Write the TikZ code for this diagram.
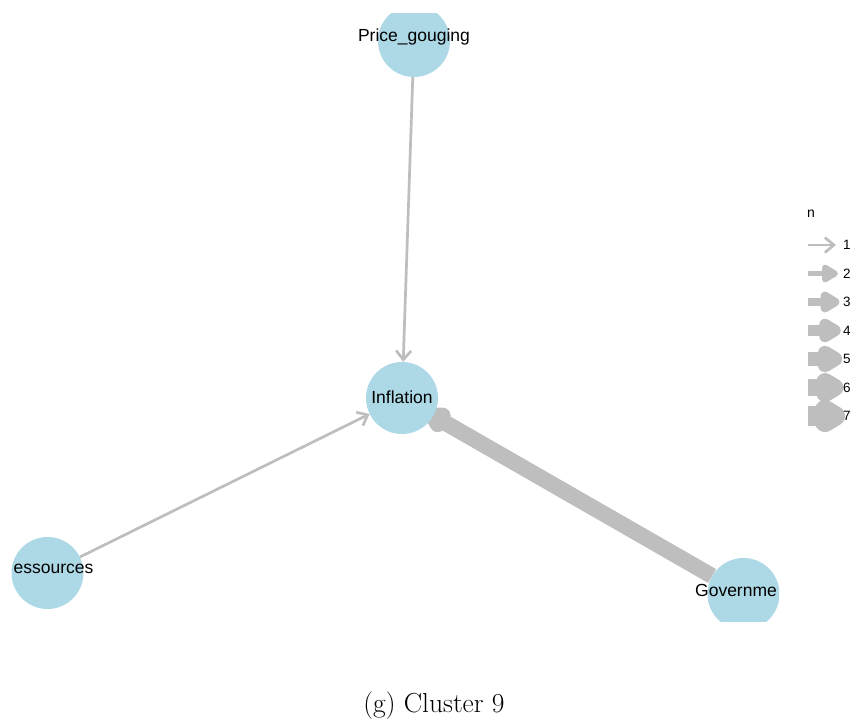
\documentclass[tikz,border=0pt]{standalone}
\usepackage{fontspec}
\newfontfamily\labelfont{Liberation Sans}
\usetikzlibrary{arrows.meta, calc}
\definecolor{nodecol}{HTML}{ADD8E6}
\definecolor{edgecol}{HTML}{BEBEBE}
\pgfdeclarelayer{edges}
\pgfsetlayers{edges,main}
\tikzstyle{vertex} = [circle, fill=nodecol, minimum size=72pt, inner sep=0pt]
\tikzstyle{vlabel} = [font=\labelfont\fontsize{17.5}{20}\selectfont, inner sep=0pt]
\tikzstyle{keylabel} = [font=\labelfont\fontsize{13.5}{15}\selectfont, inner sep=0pt, anchor=west]
\tikzstyle{thinarrow} = [edgecol, line width=2.7pt, -{Straight Barb[length=9pt, width=15pt]}]
\tikzstyle{thickline} = [edgecol, line width=16pt]
\tikzstyle{arrowhead} = [edgecol, fill=edgecol, line join=round]

\begin{document}
\begin{tikzpicture}[x=1pt, y=-1pt]
    \useasboundingbox (0,0) rectangle (855,724);

    \begin{scope}
    \clip (11,13) rectangle (779,621);
    \node (price) [vertex] at (414,41) {};
    \node (inflation) [vertex] at (402,398) {};
    \node (ressources) [vertex] at (47.5,573) {};
    \node (government) [vertex] at (743.5,594) {};

    \node (pricetxt) [vlabel] at (414,37) {Price\_gouging};
    \node (inflationtxt) [vlabel] at (402,397) {Inflation};
    \node (ressourcestxt) [vlabel] at (53.5,569) {essources};
    \node (governmenttxt) [vlabel] at (736,590) {Governme};
    \end{scope}

    \begin{pgfonlayer}{edges}
    \draw [thinarrow] (price) -- (inflation);
    \draw [thinarrow] (ressources) -- (inflation);
    % thick edge, head drawn as a stroked triangle
    \coordinate (govtip) at ($(inflation)!36pt!(government)$);
    \coordinate (govback) at ($(inflation)!44pt!(government)$);
    \draw [thickline] (government) -- (govtip);
    \filldraw [arrowhead, line width=16pt] (govtip)
        -- ($(govback)!5pt!90:(govtip)$) -- ($(govback)!5pt!-90:(govtip)$) -- cycle;
    \end{pgfonlayer}

    % legend
    \node (legendtitle) [font=\labelfont\fontsize{14}{16}\selectfont] at (811,214) {n};
    \coordinate (key1a) at (808,245);
    \coordinate (key1b) at (836,245);
    \draw [thinarrow] (key1a) -- (key1b);
    \foreach \k in {2,...,7} {
        \pgfmathsetmacro{\ky}{245+(\k-1)*28.5}
        \pgfmathsetmacro{\kw}{3+(\k-1)*2.83}
        \coordinate (key\k a) at (808,\ky);
        \coordinate (key\k b) at (835,\ky);
        \draw [edgecol, line width=\kw pt] (key\k a) -- (key\k b);
        \filldraw [arrowhead, line width=\kw pt] (key\k b)
            -- ($(key\k b)+(-10,-6)$) -- ($(key\k b)+(-10,6)$) -- cycle;
    }
    \foreach \k in {1,...,7}
        \node (key\k) [keylabel] at (843,245+28.5*\k-28.5) {\k};

    \node (caption) [font=\fontsize{27.5}{31}\selectfont] at (434,706) {(g) Cluster 9};
\end{tikzpicture}
\end{document}
